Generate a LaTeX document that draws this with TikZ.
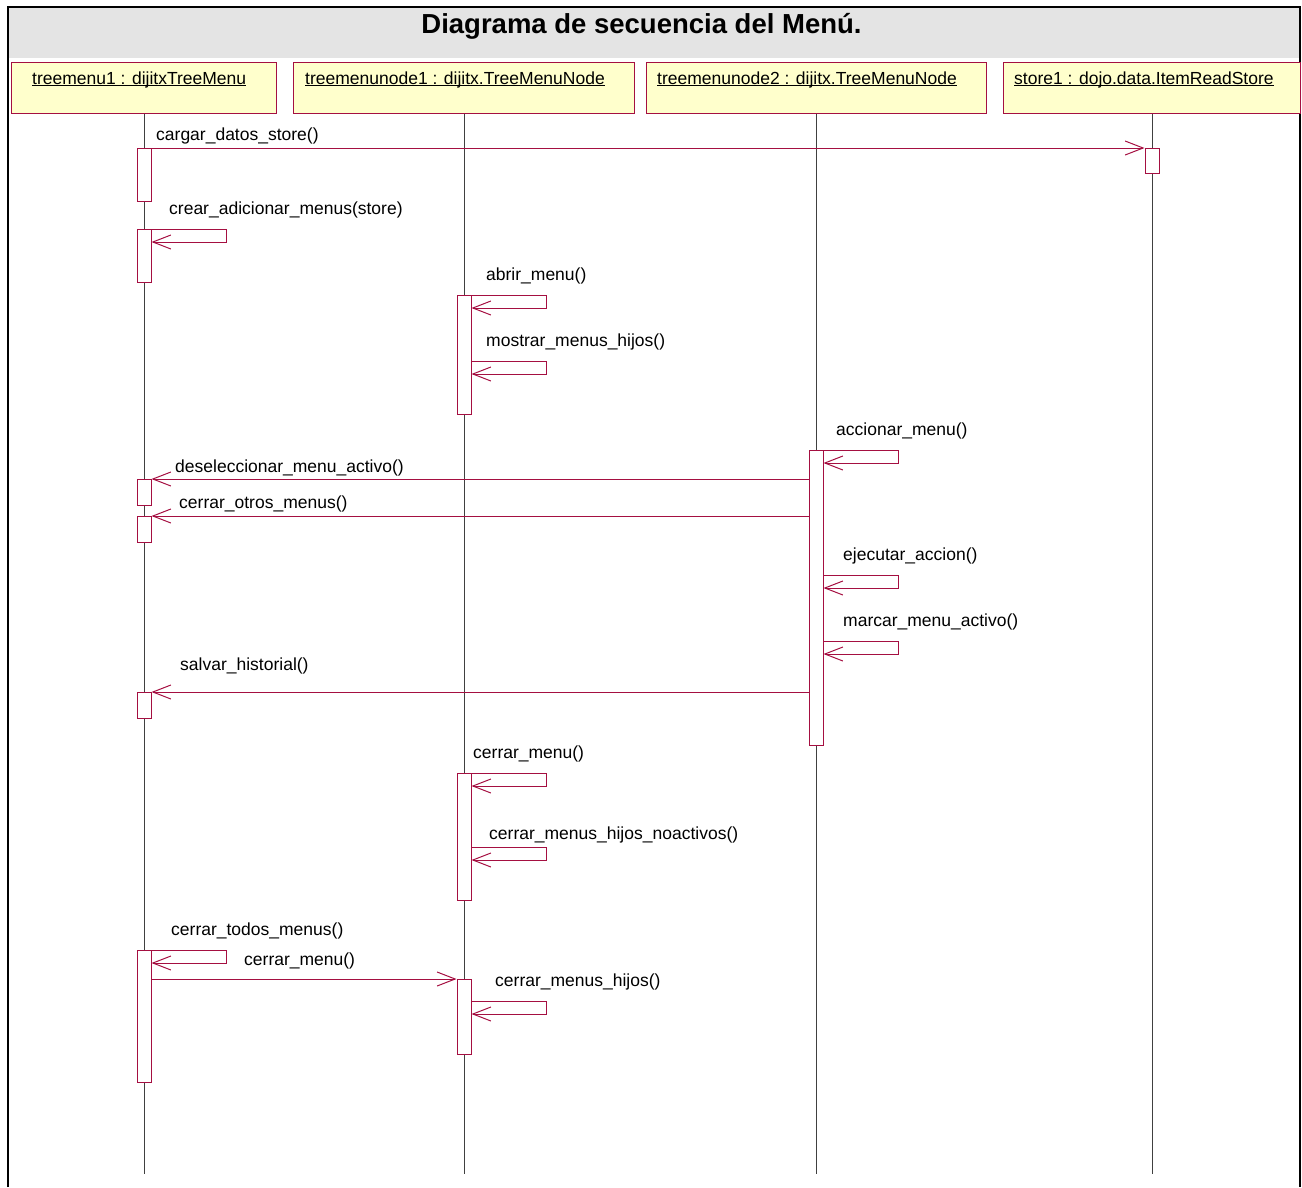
\documentclass[tikz,border=0pt]{standalone}
\usepackage{fontspec}
\setmainfont{Liberation Sans}
\usetikzlibrary{arrows.meta}
\definecolor{umlred}{RGB}{165,15,65}
\definecolor{objfill}{RGB}{255,255,204}
\definecolor{titlegray}{RGB}{228,228,228}
% underlined object name, rule just under the baseline
\newcommand{\objname}[1]{\setbox0\hbox{#1}\rlap{\rule[-2pt]{\wd0}{1pt}}\box0}
\begin{document}
\begin{tikzpicture}[x=1pt,y=-1pt,
  lbl/.style={anchor=base west, inner sep=0pt, font=\fontsize{17.5}{20}\selectfont},
  objbox/.style={draw=umlred, fill=objfill, line width=1pt, anchor=north west,
                 minimum height=51pt, inner sep=0pt},
  life/.style={draw=black!75, line width=0.8pt},
  actbar/.style={draw=umlred, fill=white, line width=1pt, anchor=north,
                 minimum width=14pt, inner sep=0pt},
  msg/.style={draw=umlred, line width=1pt,
              -{Straight Barb[length=18pt, width=14pt]}},
]
\useasboundingbox (0,0) rectangle (1302,1187);

% title band and frame
\fill[titlegray] (9,8) rectangle (1299,58);
\node[anchor=base, inner sep=0pt, font=\fontsize{27.5}{30}\selectfont\bfseries]
  (title) at (641.5,33) {Diagrama de secuencia del Menú.};
\draw[line width=2pt] (8,1187) -- (8,7) -- (1300,7) -- (1300,1187);

% objects
\node[objbox, minimum width=265pt] (o1) at (11,62) {};
\node[objbox, minimum width=341pt] (o2) at (293,62) {};
\node[objbox, minimum width=340pt] (o3) at (646,62) {};
\node[objbox, minimum width=297pt] (o4) at (1003,62) {};
\node[lbl] (t1) at (32,84) {\objname{treemenu1 : dijitxTreeMenu}};
\node[lbl] (t2) at (305,84) {\objname{treemenunode1 : dijitx.TreeMenuNode}};
\node[lbl] (t3) at (657,84) {\objname{treemenunode2 : dijitx.TreeMenuNode}};
\node[lbl] (t4) at (1014,84) {\objname{store1 : dojo.data.ItemReadStore}};

% lifelines
\draw[life] (o1.south) -- ++(0,1060);
\draw[life] (o2.south) -- ++(0,1060);
\draw[life] (o3.south) -- ++(0,1060);
\draw[life] (o4.south) -- ++(0,1060);

% activation bars
\node[actbar, minimum height=53pt]  (a1) at (144,148) {};
\node[actbar, minimum height=53pt]  (a2) at (144,229) {};
\node[actbar, minimum height=26pt]  (a3) at (144,479) {};
\node[actbar, minimum height=26pt]  (a4) at (144,516) {};
\node[actbar, minimum height=26pt]  (a5) at (144,692) {};
\node[actbar, minimum height=132pt] (a6) at (144,950) {};
\node[actbar, minimum height=25pt]  (s1) at (1152,148) {};
\node[actbar, minimum height=119pt] (b1) at (464,295) {};
\node[actbar, minimum height=127pt] (b2) at (464,773) {};
\node[actbar, minimum height=75pt]  (b3) at (464,979) {};
\node[actbar, minimum height=295pt] (n1) at (816,450) {};

% messages
\draw[msg] (a1.north east) -- (s1.north west);
\draw[msg] (a2.north east) -- ++(75,0) -- ++(0,13) -- ++(-75,0);
\draw[msg] (b1.north east) -- ++(75,0) -- ++(0,13) -- ++(-75,0);
\draw[msg] ([yshift=-66pt]b1.north east) -- ++(75,0) -- ++(0,13) -- ++(-75,0);
\draw[msg] (n1.north east) -- ++(75,0) -- ++(0,13) -- ++(-75,0);
\draw[msg] (n1.west |- a3.north) -- (a3.north east);
\draw[msg] (n1.west |- a4.north) -- (a4.north east);
\draw[msg] ([yshift=-125pt]n1.north east) -- ++(75,0) -- ++(0,13) -- ++(-75,0);
\draw[msg] ([yshift=-191pt]n1.north east) -- ++(75,0) -- ++(0,13) -- ++(-75,0);
\draw[msg] (n1.west |- a5.north) -- (a5.north east);
\draw[msg] (b2.north east) -- ++(75,0) -- ++(0,13) -- ++(-75,0);
\draw[msg] ([yshift=-74pt]b2.north east) -- ++(75,0) -- ++(0,13) -- ++(-75,0);
\draw[msg] (a6.north east) -- ++(75,0) -- ++(0,13) -- ++(-75,0);
\draw[msg] (a6.east |- b3.north) -- (b3.north west);
\draw[msg] ([yshift=-22pt]b3.north east) -- ++(75,0) -- ++(0,13) -- ++(-75,0);

% message labels
\node[lbl] (m1)  at (156,140) {cargar\_datos\_store()};
\node[lbl] (m2)  at (169,214) {crear\_adicionar\_menus(store)};
\node[lbl] (m3)  at (486,280) {abrir\_menu()};
\node[lbl] (m4)  at (486,346) {mostrar\_menus\_hijos()};
\node[lbl] (m5)  at (836,435) {accionar\_menu()};
\node[lbl] (m6)  at (175,472) {deseleccionar\_menu\_activo()};
\node[lbl] (m7)  at (179,508) {cerrar\_otros\_menus()};
\node[lbl] (m8)  at (843,560) {ejecutar\_accion()};
\node[lbl] (m9)  at (843,626) {marcar\_menu\_activo()};
\node[lbl] (m10) at (180,670) {salvar\_historial()};
\node[lbl] (m11) at (473,758) {cerrar\_menu()};
\node[lbl] (m12) at (489,839) {cerrar\_menus\_hijos\_noactivos()};
\node[lbl] (m13) at (171,935) {cerrar\_todos\_menus()};
\node[lbl] (m14) at (244,965) {cerrar\_menu()};
\node[lbl] (m15) at (495,986) {cerrar\_menus\_hijos()};
\end{tikzpicture}
\end{document}
